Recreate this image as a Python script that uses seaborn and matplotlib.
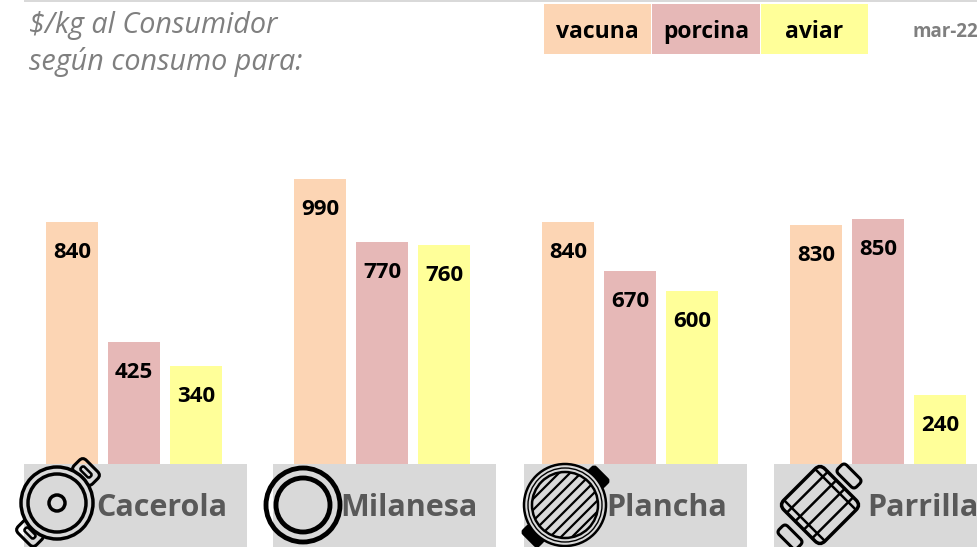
import numpy as np
import pandas as pd
import matplotlib
matplotlib.use("Agg")
import matplotlib.pyplot as plt
import seaborn as sns
from matplotlib.patches import Circle, FancyBboxPatch, Rectangle
from matplotlib.transforms import Affine2D

# data
usos = ["Cacerola", "Milanesa", "Plancha", "Parrilla"]
carnes = ["vacuna", "porcina", "aviar"]
vacuna = [840, 990, 840, 830]
porcina = [425, 770, 670, 850]
aviar = [340, 760, 600, 240]
colores = ["#FCD5B4", "#E6B8B7", "#FFFF99"]
titulo = ["$/kg al Consumidor", "según consumo para:"]
fecha = "mar-22"

df = pd.DataFrame({"uso": usos, "vacuna": vacuna, "porcina": porcina, "aviar": aviar})
df = df.melt(id_vars="uso", var_name="carne", value_name="precio")

sns.set_theme(style="white")
plt.rcParams["font.family"] = ["Open Sans", "DejaVu Sans"]
GRIS = "#595959"

fig = plt.figure(figsize=(9.78, 5.47), dpi=100)
ax = fig.add_axes([0, 0, 1, 1])
sns.barplot(data=df, x="uso", y="precio", hue="carne", order=usos, hue_order=carnes,
            palette=colores, width=0.75, gap=0.16, saturation=1, legend=False, linewidth=0, ax=ax)
for c in ax.containers:
    etiquetas = ax.bar_label(c, fmt="%d", padding=-22, fontsize=16, fontweight="bold", color="black")
    for t in etiquetas:
        t.set_verticalalignment("center")

# 248 px per group, 0.288 px per peso
ax.set_xlim(-134 / 248, (978 - 134) / 248)
ax.set_ylim(-(547 - 464) / 0.288, 464 / 0.288)
ax.axis("off")

# overlay in pixels for the labels, legend and icons
ov = fig.add_axes([0, 0, 1, 1], facecolor="none")
ov.set_xlim(0, 978)
ov.set_ylim(547, 0)
ov.axis("off")


def rrect(cx, cy, w, h, ang, r, lw=2.5, fc="none", z=5):
    p = FancyBboxPatch((cx - w / 2, cy - h / 2), w, h, boxstyle=f"round,pad=0,rounding_size={r}",
                       fc=fc, ec="black", lw=lw, zorder=z,
                       transform=Affine2D().rotate_deg_around(cx, cy, ang) + ov.transData)
    ov.add_patch(p)
    return p


def ring(cx, cy, r, lw=2.5, fc="none", z=5):
    p = Circle((cx, cy), r, fc=fc, ec="black", lw=lw, zorder=z)
    ov.add_patch(p)
    return p


def icon_cacerola(cx, cy):
    rrect(86, 472, 26, 17, 45, 5, lw=2.2)
    rrect(30, 533, 26, 17, 45, 5, lw=2.2)
    rrect(86, 472, 13, 5, 45, 2, lw=1.8)
    rrect(30, 533, 13, 5, 45, 2, lw=1.8)
    ring(cx, cy, 36, lw=2.5, fc="#D9D9D9")
    ring(cx, cy, 29, lw=2.5)
    ring(cx, cy, 8, lw=2.5)


def icon_milanesa(cx, cy):
    ring(cx, cy, 37, lw=3.5)
    ring(cx, cy, 27, lw=3.5)


def icon_plancha(cx, cy):
    rrect(598, 477, 22, 11, 45, 3, lw=1.5, fc="black")
    rrect(533, 536, 22, 11, 45, 3, lw=1.5, fc="black")
    ring(cx, cy, 41, lw=1.8, fc="#D9D9D9")
    ring(cx, cy, 37, lw=1.0)
    borde = ring(cx, cy, 33, lw=1.8)
    for d in np.arange(-30, 31, 5.5):
        ln, = ov.plot([cx - 50 + d, cx + 50 + d], [cy + 50 + d, cy - 50 + d], color="black", lw=1.6, zorder=6)
        ln.set_clip_path(borde)


def icon_parrilla(cx, cy):
    rrect(849, 476, 26, 12, 45, 4, lw=2.2)
    rrect(790, 537, 26, 12, 45, 4, lw=2.2)
    rrect(cx, cy, 58, 58, 45, 7, lw=2.5, fc="#D9D9D9")
    rot = Affine2D().rotate_deg_around(cx, cy, 45) + ov.transData
    for d in (-18, -6, 6, 18):
        ov.plot([cx + d, cx + d], [cy - 29, cy + 29], color="black", lw=1.8, zorder=6, transform=rot)
    for d in (-22, 22):
        ov.plot([cx - 29, cx + 29], [cy + d, cy + d], color="black", lw=1.8, zorder=6, transform=rot)


cajas = [24, 273, 524, 774]
anchos = [223, 223, 223, 204]
texto_x = [162, 409, 667, 923]
iconos = [(icon_cacerola, 57, 503), (icon_milanesa, 303, 505), (icon_plancha, 565, 505), (icon_parrilla, 820, 505)]
for uso, x0, w, tx, (fn, cx, cy) in zip(usos, cajas, anchos, texto_x, iconos):
    ov.add_patch(Rectangle((x0, 464), w, 83, fc="#D9D9D9", ec="none", zorder=2))
    fn(cx, cy)
    ov.text(tx, 508, uso, ha="center", va="center", fontsize=22, fontweight="bold", color=GRIS, zorder=7)

# top rule, title, legend, date
ov.add_patch(Rectangle((24, 0), 954, 2, fc="#D9D9D9", ec="none"))
ov.text(29, 25, titulo[0], ha="left", va="center", fontsize=20.7, style="italic", color="#7F7F7F")
ov.text(29, 62, titulo[1], ha="left", va="center", fontsize=20.7, style="italic", color="#7F7F7F")

ley_x = [544, 652, 761]
ley_w = [107, 108, 107]
for nombre, col, x0, w in zip(carnes, colores, ley_x, ley_w):
    ov.add_patch(Rectangle((x0, 4), w, 50, fc=col, ec="none"))
    ov.text(x0 + w / 2, 32, nombre, ha="center", va="center", fontsize=16.5, fontweight="bold", color="black")
ov.text(978, 32, fecha, ha="right", va="center", fontsize=13.5, fontweight="bold", color="#7F7F7F")

fig.savefig("out.png", dpi=100)
